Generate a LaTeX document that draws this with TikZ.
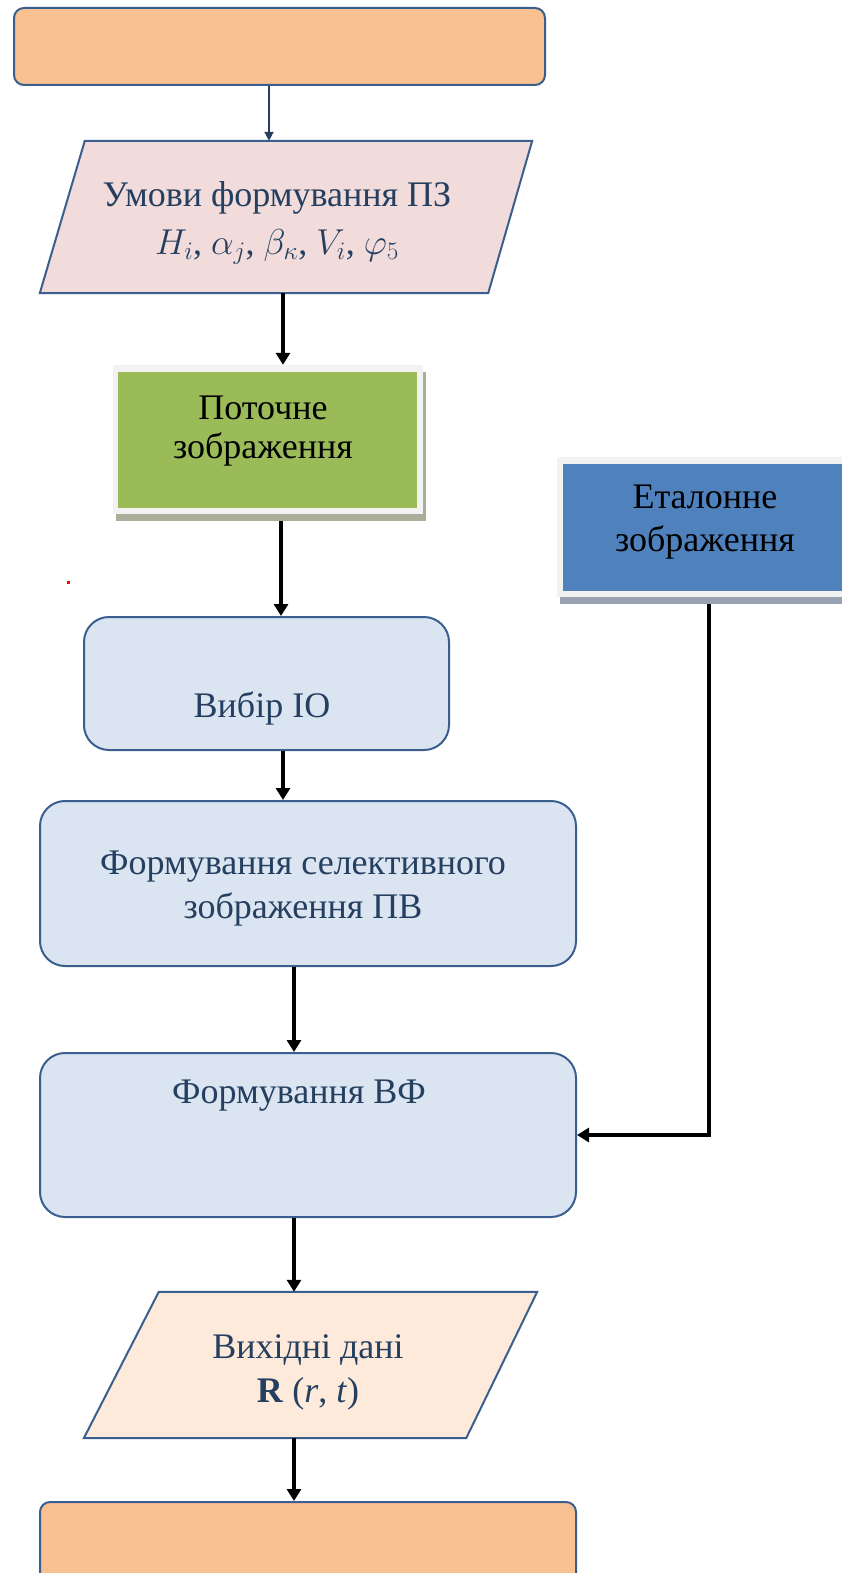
\documentclass[tikz,border=0pt]{standalone}
\usepackage{fix-cm}
\usepackage{fontspec}
\setmainfont{Liberation Serif}
\usetikzlibrary{arrows.meta,calc}
\definecolor{peach}{HTML}{F9C091}
\definecolor{pinkfill}{HTML}{F2DCDB}
\definecolor{lightblue}{HTML}{DBE5F1}
\definecolor{edgeblue}{HTML}{3A5F8F}
\definecolor{navy}{HTML}{243F60}
\definecolor{greenfill}{HTML}{9BBB59}
\definecolor{bluefill}{HTML}{4F81BD}
\definecolor{outerlight}{HTML}{F2F2F2}
\definecolor{greenshadow}{HTML}{A9AE9A}
\definecolor{blueshadow}{HTML}{98A2B3}
\definecolor{outfill}{HTML}{FDEADA}
\begin{document}
\begin{tikzpicture}[x=1pt,y=-1pt,
  font=\fontsize{36}{44}\selectfont,
  roundbox/.style={draw=edgeblue, line width=2pt, fill=lightblue, rounded corners=25pt, inner sep=0pt},
  termbox/.style={draw=edgeblue, line width=2pt, fill=peach, rounded corners=10pt, inner sep=0pt},
  ghost/.style={draw=none, inner sep=0pt},
  paraline/.style={draw=edgeblue, line width=2pt},
  txt/.style={text=navy, align=center, inner sep=0pt},
  blk/.style={text=black, align=center, inner sep=0pt},
  flow/.style={line width=4pt, -{Triangle[width=14pt,length=12pt]}},
  thinflow/.style={draw=navy, line width=2pt, -{Triangle[width=9pt,length=9pt]}}
]
\useasboundingbox (0,0) rectangle (842,1573);
\clip (0,0) rectangle (842,1573);
\fill[white] (0,0) rectangle (842,1573);

% start terminal
\node[termbox, minimum width=531pt, minimum height=77pt] (start) at (279.5,46.5) {};

% parallelogram 1
\node[ghost, minimum width=492pt, minimum height=152pt] (p1) at (286,217) {};
\draw[paraline, fill=pinkfill] ([xshift=45pt]p1.north west) -- (p1.north east) -- ([xshift=-44pt]p1.south east) -- (p1.south west) -- cycle;
\node[txt, font=\fontsize{36}{48}\selectfont] (t1) at (277,223) {Умови формування ПЗ\\$H_i$, $\alpha_j$, $\beta_\kappa$, $V_i$, $\varphi_5$};

% green box
\node[ghost, fill=greenshadow, minimum width=310pt, minimum height=149pt] (gsh) at (271,446.5) {};
\node[ghost, fill=outerlight, minimum width=310pt, minimum height=149pt] (gout) at (268,439.5) {};
\node[ghost, fill=greenfill, minimum width=299pt, minimum height=136pt] (gin) at (267.5,440) {};
\node[blk, font=\fontsize{36}{39}\selectfont] (t2) at (263,431) {Поточне\\зображення};

% blue box
\node[ghost, fill=blueshadow, minimum width=300pt, minimum height=140pt] (bsh) at (710,534) {};
\node[ghost, fill=outerlight, minimum width=303pt, minimum height=140pt] (bout) at (708.5,527) {};
\node[ghost, fill=bluefill, minimum width=297pt, minimum height=127pt] (bin) at (711.5,527.5) {};
\node[blk, font=\fontsize{36}{43}\selectfont] (t3) at (705,522) {Еталонне\\зображення};

% process boxes
\node[roundbox, minimum width=365pt, minimum height=133pt] (io) at (266.5,683.5) {};
\node[txt] (t4) at (262,708) {Вибір ІО};
\node[roundbox, minimum width=536pt, minimum height=165pt] (pv) at (308,883.5) {};
\node[txt] (t5) at (303,889) {Формування селективного\\зображення ПВ};
\node[roundbox, minimum width=536pt, minimum height=164pt] (vf) at (308,1135) {};
\node[txt] (t6) at (299,1096) {Формування ВФ};

% parallelogram 2
\node[ghost, minimum width=453pt, minimum height=146pt] (p2) at (310.5,1365) {};
\draw[paraline, fill=outfill] ([xshift=75pt]p2.north west) -- (p2.north east) -- ([xshift=-71pt]p2.south east) -- (p2.south west) -- cycle;
\node[txt] (t7) at (308,1372) {Вихідні дані\\\textbf{R} (\textit{r}, \textit{t})};

% end terminal
\node[termbox, minimum width=536pt, minimum height=118pt] (end) at (308,1561) {};

% connectors
\draw[thinflow] ([xshift=-10.5pt]start.south) -- ([xshift=-10.5pt]start.south |- p1.north);
\draw[flow] ([xshift=-3pt]p1.south) -- ([xshift=-3pt]p1.south |- gout.north);
\draw[flow] ([xshift=10pt]gsh.south) -- ([xshift=10pt]gsh.south |- io.north);
\draw[flow] ([xshift=16.5pt]io.south) -- ([xshift=16.5pt]io.south |- pv.north);
\draw[flow] ([xshift=-14pt]pv.south) -- ([xshift=-14pt]pv.south |- vf.north);
\draw[flow] ([xshift=-14pt]vf.south) -- ([xshift=-14pt]vf.south |- p2.north);
\draw[flow] ([xshift=-16.5pt]p2.south) -- ([xshift=-16.5pt]p2.south |- end.north);
\draw[flow] ([xshift=-1pt]bsh.south) |- (vf.east);

% small red mark
\fill[red] (67,581) rectangle (70,584);
\end{tikzpicture}
\end{document}
